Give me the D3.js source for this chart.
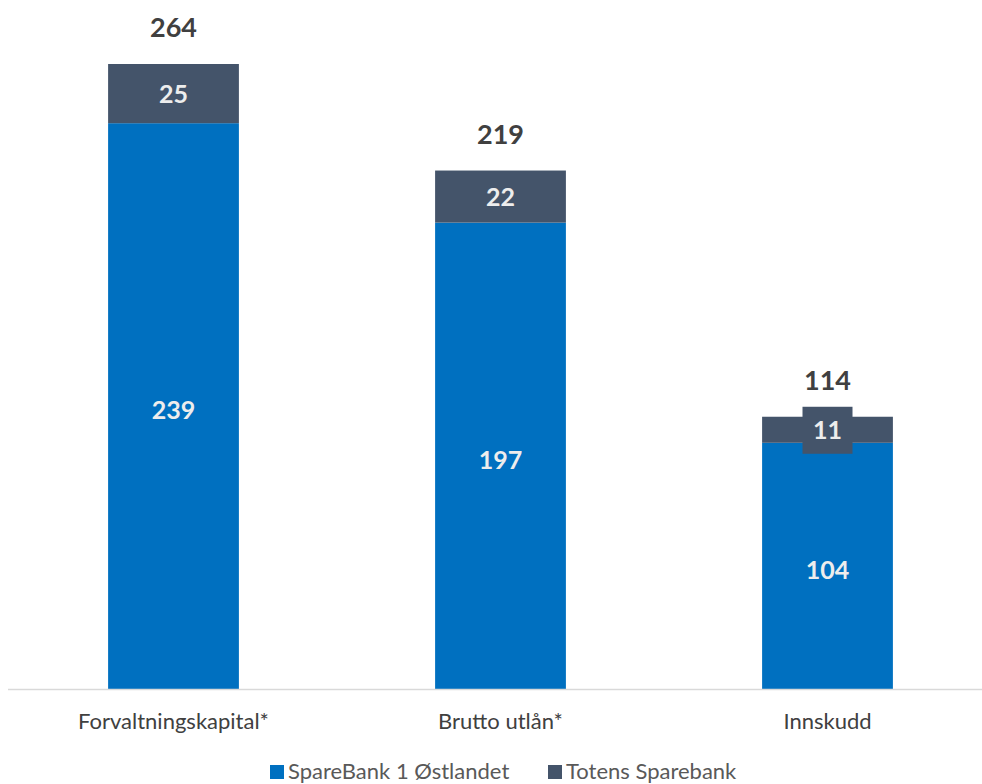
<!DOCTYPE html>
<meta charset="utf-8">
<style>
body { margin: 0; background: #fff; }
svg { font-family: Lato, "Open Sans", sans-serif; }
</style>
<html>
<head><title>SpareBank 1 Østlandet + Totens Sparebank</title></head>
<body>
<svg id="chart" width="982" height="784"></svg>
</body>
</html>
<script src="https://cdnjs.cloudflare.com/ajax/libs/d3/7.8.5/d3.min.js"></script>
<script>
// data
var categories = ["Forvaltningskapital*", "Brutto utlån*", "Innskudd"];
var ostlandet = [239, 197, 104];
var totens = [25, 22, 11];
var totals = [264, 219, 114];
var seriesNames = ["SpareBank 1 Østlandet", "Totens Sparebank"];
var colors = ["#0070C0", "#44546A"];

var svg = d3.select("#chart");

var x = d3.scaleBand()
  .domain(categories)
  .range([10, 991])
  .paddingInner(0.6)
  .paddingOuter(0.3);

var y = d3.scaleLinear()
  .domain([0, 264])
  .range([689, 64]);

var rows = categories.map(function(c, i) {
  return { cat: c, a: ostlandet[i], b: totens[i], total: totals[i] };
});

// bottom segment
svg.selectAll(".barA").data(rows).enter().append("rect")
  .attr("x", function(d) { return x(d.cat); })
  .attr("width", x.bandwidth())
  .attr("y", function(d) { return y(d.a); })
  .attr("height", function(d) { return y(0) - y(d.a); })
  .attr("fill", colors[0]);

// top segment
svg.selectAll(".barB").data(rows).enter().append("rect")
  .attr("x", function(d) { return x(d.cat); })
  .attr("width", x.bandwidth())
  .attr("y", function(d) { return y(d.a + d.b); })
  .attr("height", function(d) { return y(d.a) - y(d.a + d.b); })
  .attr("fill", colors[1]);

// axis line
svg.append("line")
  .attr("x1", 8).attr("x2", 982)
  .attr("y1", y(0) + 0.5).attr("y2", y(0) + 0.5)
  .attr("stroke", "#D9D9D9").attr("stroke-width", 1.5);

// labels inside bottom segment
svg.selectAll(".lblA").data(rows).enter().append("text")
  .attr("x", function(d) { return x(d.cat) + x.bandwidth() / 2; })
  .attr("y", function(d) { return (y(0) + y(d.a)) / 2 + 13; })
  .attr("text-anchor", "middle")
  .attr("font-size", 25).attr("font-weight", "bold")
  .attr("fill", "#EDEDED")
  .text(function(d) { return d.a; });

// labels in top segment; the small one gets a box behind it
var lblB = svg.selectAll(".lblB").data(rows).enter().append("g")
  .attr("transform", function(d) {
    return "translate(" + (x(d.cat) + x.bandwidth() / 2) + "," + ((y(d.a) + y(d.a + d.b)) / 2) + ")";
  });
lblB.filter(function(d) { return y(d.a) - y(d.a + d.b) < 40; })
  .append("rect")
  .attr("x", -25).attr("y", -23).attr("width", 50).attr("height", 47)
  .attr("fill", colors[1]);
lblB.append("text")
  .attr("y", 9)
  .attr("text-anchor", "middle")
  .attr("font-size", 25).attr("font-weight", "bold")
  .attr("fill", "#EDEDED")
  .text(function(d) { return d.b; });

// totals above
svg.selectAll(".lblT").data(rows).enter().append("text")
  .attr("x", function(d) { return x(d.cat) + x.bandwidth() / 2; })
  .attr("y", function(d) { return y(d.a + d.b) - 27; })
  .attr("text-anchor", "middle")
  .attr("font-size", 27).attr("font-weight", "bold")
  .attr("fill", "#404040")
  .text(function(d) { return d.total; });

// category labels
svg.selectAll(".cat").data(categories).enter().append("text")
  .attr("x", function(d) { return x(d) + x.bandwidth() / 2; })
  .attr("y", 729)
  .attr("text-anchor", "middle")
  .attr("font-size", 22)
  .attr("fill", "#404040")
  .text(function(d) { return d; });

// legend
var legendX = [270, 548];
var leg = svg.selectAll(".leg").data(seriesNames).enter().append("g")
  .attr("transform", function(d, i) { return "translate(" + legendX[i] + ",765)"; });
leg.append("rect").attr("width", 14).attr("height", 14)
  .attr("fill", function(d, i) { return colors[i]; });
leg.append("text")
  .attr("x", 18).attr("y", 14)
  .attr("font-size", 22)
  .attr("fill", "#595959")
  .text(function(d) { return d; });
</script>
